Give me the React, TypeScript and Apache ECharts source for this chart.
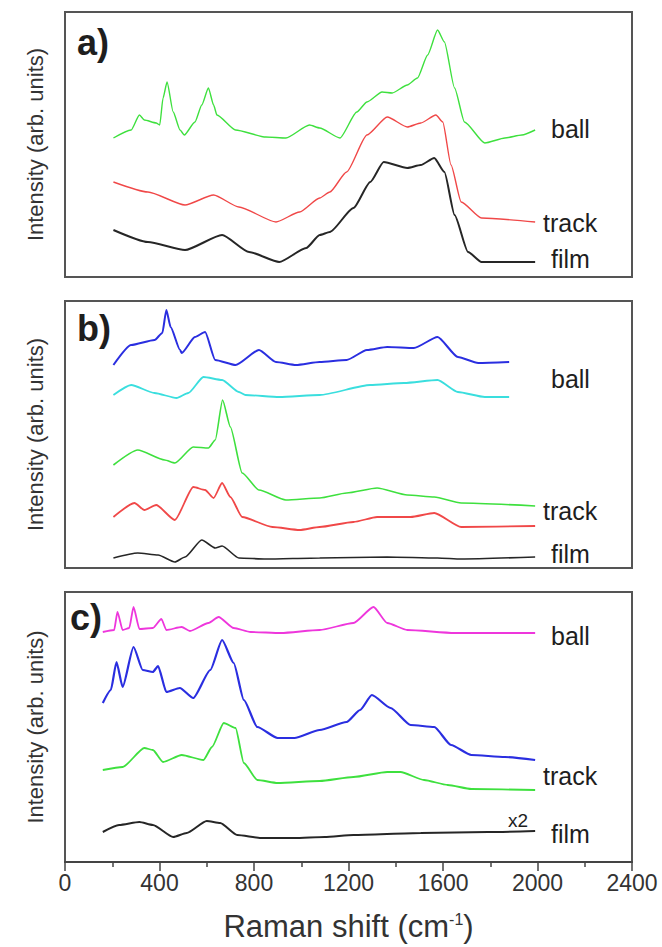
import React, { useEffect, useRef } from "react";
import * as echarts from "echarts";

// ---------- data (Raman shift cm-1, intensity arb. units) ----------
type P = [number, number];

// panel a)
const aBall: P[] = [[205,139],[280,147],[315,162],[336,157],[386,154],[401,152],[415,179],[432,195],[458,165],[487,147],[505,142],[550,155],[579,172],[607,189],[629,172],[643,162],[722,147],[850,140],[935,139],[1035,152],[1078,149],[1164,139],[1235,165],[1278,175],[1342,185],[1385,184],[1449,192],[1492,199],[1535,222],[1577,247],[1606,235],[1649,189],[1691,155],[1777,134],[1862,139],[1934,142],[1990,147]];
const aTrack: P[] = [[205,95],[351,85],[508,72],[629,82],[736,70],[893,55],[993,65],[1078,79],[1121,85],[1192,105],[1278,142],[1364,160],[1449,150],[1506,154],[1570,162],[1599,155],[1634,112],[1677,75],[1763,59],[1990,55]];
const aFilm: P[] = [[205,47],[351,35],[508,27],[665,42],[779,25],[907,15],[1021,29],[1078,42],[1121,45],[1221,69],[1292,95],[1349,115],[1449,109],[1506,112],[1563,119],[1606,105],[1649,62],[1706,25],[1763,15],[1990,15]];

// panel b)
const bBall1: P[] = [[205,203],[280,223],[379,228],[412,235],[429,258],[447,241],[487,218],[494,215],[550,231],[593,236],[636,208],[722,203],[821,218],[893,206],[978,203],[1078,206],[1192,208],[1278,218],[1364,221],[1477,220],[1577,231],[1663,211],[1749,205],[1880,206]];
const bBall2: P[] = [[205,173],[280,183],[379,175],[472,170],[522,175],[586,191],[665,188],[736,176],[764,173],[907,171],[1078,173],[1292,183],[1435,185],[1577,188],[1663,176],[1777,171],[1880,171]];
const bTrack1: P[] = [[205,103],[308,118],[422,108],[465,105],[543,121],[607,120],[636,128],[667,168],[700,141],[750,95],[821,78],[935,68],[1078,70],[1192,75],[1321,80],[1449,73],[1563,71],[1677,65],[1990,62]];
const bTrack2: P[] = [[205,51],[294,65],[336,58],[386,63],[465,48],[543,81],[593,78],[629,70],[665,85],[700,71],[750,51],[878,41],[993,38],[1078,41],[1221,46],[1321,51],[1463,51],[1563,55],[1677,41],[1990,42]];
const bFilm: P[] = [[205,10],[308,15],[394,13],[465,6],[508,11],[579,28],[636,20],[665,22],[736,10],[850,9],[1078,10],[1364,11],[1577,10],[1677,9],[1990,11]];

// panel c)
const cBall: P[] = [[160,230],[208,232],[222,250],[244,232],[272,234],[290,255],[315,233],[372,234],[408,243],[429,232],[494,235],[529,231],[607,239],[650,245],[714,234],[786,230],[914,229],[1078,232],[1221,239],[1306,255],[1364,239],[1449,232],[1649,229],[1990,229]];
const cTrack1: P[] = [[160,159],[194,172],[218,200],[244,175],[290,215],[329,192],[372,190],[394,196],[429,170],[486,174],[543,164],[615,192],[665,222],[714,199],[757,162],[814,135],[900,124],[971,124],[1078,132],[1192,140],[1249,152],[1299,167],[1378,154],[1463,137],[1563,135],[1634,117],[1720,107],[1862,105],[1990,102]];
const cTrack2: P[] = [[160,92],[244,95],[336,114],[372,112],[415,100],[494,107],[586,102],[622,115],[672,139],[722,134],[757,99],[814,82],[900,79],[1078,81],[1221,85],[1364,90],[1420,90],[1520,82],[1620,77],[1720,73],[1990,72]];
const cFilm: P[] = [[160,30],[229,37],[315,40],[372,37],[458,25],[515,29],[600,41],[657,39],[729,27],[829,24],[971,24],[1099,25],[1221,27],[1506,29],[1791,30],[1990,31]];

const xMin = 0;
const xMax = 2400;
const xInterval = 400;
const panelYMax = [265, 267, 270];
const panelTags = ["a)", "b)", "c)"];
const yTitle = "Intensity (arb. units)";

const FONT = "'Liberation Sans', Arial, Helvetica, sans-serif";
const GREEN = "#3ee03e";
const RED = "#f04848";
const BLACK = "#262626";
const BLUE = "#2a2ee0";
const CYAN = "#3adede";
const MAGENTA = "#ee36dc";

export default function App() {
  const ref = useRef<HTMLDivElement>(null);
  useEffect(() => {
    if (!ref.current) return;
    const chart = echarts.init(ref.current, undefined, { renderer: "svg" });
    const L = 65, Wd = 567;
    const grids = [
      { left: L, top: 12, width: Wd, height: 265 },
      { left: L, top: 301, width: Wd, height: 267 },
      { left: L, top: 592, width: Wd, height: 270 },
    ].map((g) => ({ ...g, show: true, borderColor: "#555", borderWidth: 2, backgroundColor: "#fff" }));

    const xAxes = [0, 1, 2].map((i) => ({
      type: "value",
      gridIndex: i,
      min: xMin,
      max: xMax,
      interval: xInterval,
      show: i === 2,
      axisLine: { show: true, lineStyle: { color: "#444", width: 2 } },
      axisTick: { show: true, inside: false, length: 9, lineStyle: { color: "#444", width: 1.5 } },
      minorTick: { show: true, splitNumber: 2, length: 5, lineStyle: { color: "#444", width: 1.5 } },
      axisLabel: {
        show: true,
        fontSize: 23,
        color: "#333",
        fontFamily: FONT,
        margin: 9,
        formatter: (v: number) => String(v),
      },
      splitLine: { show: false },
      name: i === 2 ? "Raman shift (cm{sup|-1})" : "",
      nameLocation: "middle",
      nameGap: 49,
      nameTextStyle: {
        fontSize: 31,
        color: "#333",
        fontFamily: FONT,
        rich: { sup: { fontSize: 16, color: "#333", fontFamily: FONT, verticalAlign: "top", padding: [0, 0, 14, 0] } },
      },
    }));

    const yAxes = [0, 1, 2].map((i) => ({
      type: "value",
      gridIndex: i,
      min: 0,
      max: panelYMax[i],
      axisLine: { show: false },
      axisTick: { show: false },
      axisLabel: { show: false },
      splitLine: { show: false },
      name: yTitle,
      nameLocation: "middle",
      nameGap: 19,
      nameTextStyle: { fontSize: 22, color: "#333", fontFamily: FONT },
    }));

    const mk = (data: P[], idx: number, color: string, width = 1.5) => ({
      type: "line",
      xAxisIndex: idx,
      yAxisIndex: idx,
      data,
      showSymbol: false,
      symbol: "none",
      smooth: 0.2,
      smoothMonotone: "x",
      lineStyle: { color, width },
      silent: true,
    });

    const series = [
      mk(aBall, 0, GREEN, 1.4),
      mk(aTrack, 0, RED, 1.4),
      mk(aFilm, 0, BLACK, 2),
      mk(bBall1, 1, BLUE, 2),
      mk(bBall2, 1, CYAN, 1.8),
      mk(bTrack1, 1, GREEN, 1.6),
      mk(bTrack2, 1, RED, 1.8),
      mk(bFilm, 1, BLACK, 1.6),
      mk(cBall, 2, MAGENTA, 1.8),
      mk(cTrack1, 2, BLUE, 2.2),
      mk(cTrack2, 2, GREEN, 1.8),
      mk(cFilm, 2, BLACK, 2),
    ];

    const txt = (text: string, x: number, y: number, fontSize: number, bold = false) => ({
      type: "text",
      x,
      y,
      z: 100,
      style: {
        text,
        fill: "#1e1e1e",
        font: `${bold ? "bold " : ""}${fontSize}px ${FONT}`,
        align: "left",
        verticalAlign: "middle",
      },
    });

    const graphic = [
      txt(panelTags[0], 77, 42, 36, true),
      txt(panelTags[1], 77, 328, 36, true),
      txt(panelTags[2], 70, 617, 36, true),
      txt("ball", 551, 129, 25),
      txt("track", 543, 223, 25),
      txt("film", 551, 259, 25),
      txt("ball", 551, 379, 25),
      txt("track", 543, 511, 25),
      txt("film", 551, 554, 25),
      txt("ball", 551, 636, 25),
      txt("track", 543, 776, 25),
      txt("film", 551, 834, 25),
      txt("x2", 508, 820, 19),
    ];

    chart.setOption({
      animation: false,
      backgroundColor: "#fff",
      grid: grids,
      xAxis: xAxes,
      yAxis: yAxes,
      series,
      graphic,
    });
    return () => chart.dispose();
  }, []);
  return (
    <div
      ref={ref}
      style={{ position: "fixed", left: 0, top: 0, width: 662, height: 947, background: "#fff" }}
    />
  );
}
